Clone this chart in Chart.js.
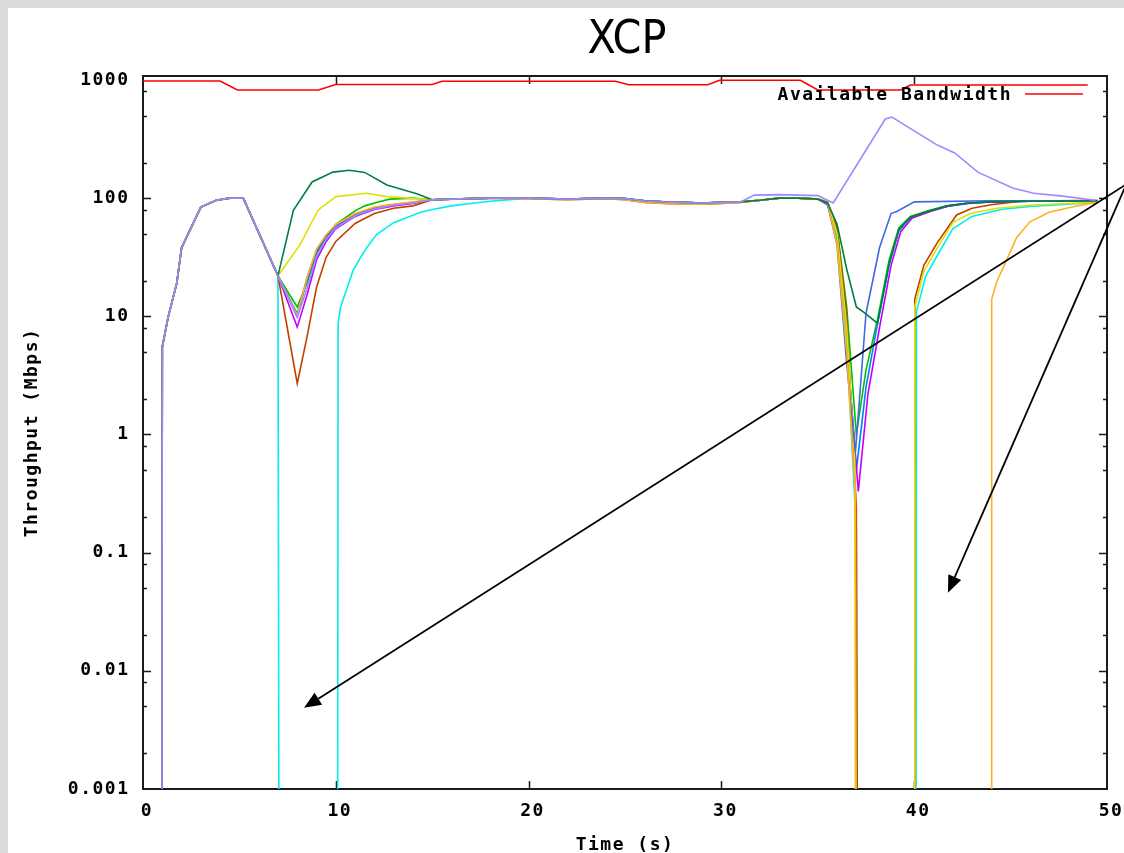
<!DOCTYPE html>
<html>
<head>
<meta charset="utf-8">
<script src="https://cdn.jsdelivr.net/npm/chart.js@4.4.0/dist/chart.umd.min.js"></script>
<style>
  html, body { margin: 0; padding: 0; background: #dcdcdc; overflow: hidden; width: 1124px; height: 853px; }
  #panel { position: absolute; left: 8px; top: 8px; width: 1116px; height: 845px; background: #fff; overflow: hidden; }
  canvas { position: absolute; left: 0; top: 0; }
</style>
</head>
<body>
<div id="panel"><canvas id="chart" width="1116" height="875"></canvas></div>
<script>
// ticks
const xTickValues = [10, 20, 30, 40];
const yTickValues = [0.001, 0.01, 0.1, 1, 10, 100, 1000];
const yTickLabels = ['0.001', '0.01', '0.1', '1', '10', '100', '1000'];
const yMinorSteps = [2, 5, 8];

// available bandwidth (Mbps)
const availT = [0, 4, 4.9, 9.1, 10, 15, 15.5, 24.5, 25.2, 29.3, 29.9, 34.1, 35, 39.3, 39.8, 49];
const availV = [980, 980, 822, 822, 915, 915, 975, 975, 910, 910, 995, 995, 822, 822, 907, 907];

// shared pieces, [time, Mbps]; 0 = no throughput
const ramp = [[0, 0], [0.97, 0], [1, 5.5], [1.3, 9.8], [1.75, 19], [2, 38], [3, 84], [3.8, 96], [4.5, 100], [5.2, 100], [7, 22]];
const plateauA = [[15, 97], [16, 98], [17, 99], [18, 100]];
const plateauB = [[20, 100], [22, 98], [24, 100], [25, 99], [26, 95], [27, 93], [28, 92], [29, 91], [30, 92], [31, 93]];
const plateauBLow = [[20, 99], [22, 97], [24, 99], [25, 97], [26, 92], [27, 90], [28, 89], [29, 89], [30, 90], [31, 92]];
const plateauC = [[32, 96], [33, 100], [34, 100], [35, 98]];

// per flow
const greenEarly = [[8, 12], [8.5, 19], [9, 34], [9.5, 47], [10, 60], [11, 78], [11.5, 86], [12.1, 92], [12.8, 98], [14, 100]];
const greenLate = [[35.5, 92], [36, 55], [36.5, 12], [37, 1.0], [37.5, 3.5], [38.1, 9.5], [38.7, 30], [39.2, 56], [39.8, 70], [40.8, 79], [41.7, 86], [42.8, 91], [44, 93], [46, 94], [49.5, 95]];

const blueEarly = [[8, 10.5], [8.5, 20], [9, 35], [9.5, 47], [10, 57], [11, 72], [12, 82], [13, 88], [14, 92]];
const blueLate = [[35.5, 90], [36, 45], [36.5, 6], [37, 0.5], [37.5, 2.5], [38.1, 8.7], [38.7, 27], [39.2, 53], [39.8, 68], [40.8, 77], [41.7, 85], [42.8, 90], [44, 93], [46, 94], [49.5, 95]];

const magentaEarly = [[8, 8.1], [8.5, 15], [9, 30], [9.5, 43], [10, 55], [11, 70], [12, 80], [13, 86], [14, 90]];
const magentaLate = [[35.5, 88], [36, 48], [36.5, 6], [37.1, 0.33], [37.6, 2.2], [38.2, 8], [38.8, 27], [39.3, 52], [39.9, 68], [40.9, 78], [41.8, 86], [42.9, 91], [44, 93], [46, 94], [49.5, 95]];

const cyanEarly = [[7.08, 0], [10.08, 0], [10.12, 8.7], [10.25, 12], [10.9, 24.5], [11.5, 36], [12.1, 49], [13, 62], [14.4, 76], [15, 80], [16, 86], [17, 90], [18, 94]];
const cyanLate = [[35.5, 90], [36, 45], [36.5, 6], [37, 0.15], [37.06, 0], [40.08, 0], [40.12, 11], [40.6, 22], [41.3, 35], [42, 55], [43, 70], [44.5, 80], [46, 85], [48, 89], [49.5, 92]];

const brownEarly = [[8, 2.7], [8.5, 6.6], [9, 17.6], [9.5, 31.6], [10, 43], [11, 61], [12, 74], [13, 82], [14, 86]];
const brownLate = [[35.5, 92], [36, 55], [36.5, 10], [37, 0.24], [37.1, 0], [40, 0], [40.03, 14], [40.5, 27], [41.2, 42], [42.2, 72], [43, 82], [44, 88], [45.5, 94], [49.5, 96]];

const yellowEarly = [[8.13, 40], [9.08, 79], [10, 103], [11.6, 110], [12.65, 103], [14.2, 99]];
const yellowLate = [[35.5, 95], [36, 50], [36.5, 8], [36.92, 0.6], [36.98, 0], [40, 0], [40.03, 12], [40.5, 24], [41.2, 38], [42, 62], [42.9, 74], [44.3, 82], [46, 87], [48, 90], [49.5, 92]];

const royalEarly = [[8, 10], [8.5, 21], [9, 36], [9.5, 48], [10, 58], [11, 73], [12, 83], [13, 88], [14, 92]];
const royalLate = [[35.5, 90], [36, 40], [36.5, 4], [36.95, 0.7], [37.5, 10.6], [37.75, 16.7], [38.2, 38], [38.8, 74], [39.1, 77], [40, 93], [44, 95], [49.5, 95]];

const orangeEarly = [[8, 10.2], [8.5, 21], [9, 37], [9.5, 49], [10, 60], [11, 74], [12, 84], [13, 89], [14, 93]];
const orangeLate = [[35.5, 93], [36, 40], [36.5, 5], [36.95, 0.3], [37.02, 0], [44, 0], [44.02, 14], [44.3, 20], [44.8, 30], [45.3, 46], [46, 63], [47, 76], [48.2, 84], [49.4, 92]];

const dkgreenEarly = [[7.8, 79], [8.77, 137], [9.85, 166], [10.7, 172], [11.5, 165], [12.65, 129], [14.2, 109]];
const dkgreenLate = [[35.5, 92], [36, 60], [36.5, 25], [37, 12], [37.5, 10.5], [38.1, 8.7], [38.7, 28], [39.2, 54], [39.8, 69], [40.8, 78], [41.7, 86], [42.8, 91], [44, 93], [46, 94], [49.5, 95]];

const lavenderEarly = [[8, 9.8], [8.5, 17], [9, 32], [9.5, 45], [10, 56], [11, 71], [12, 81], [13, 87], [14, 91]];
const lavenderMid = [[31.7, 106], [33, 107], [35, 105], [35.8, 91]];
const lavenderLate = [[38.5, 467], [38.85, 485], [40.1, 362], [41.2, 281], [42.1, 241], [43.3, 166], [45.1, 122], [46.2, 110], [47.7, 104], [49.4, 96]];

// annotation arrows, data coordinates
const arrowStart = [51.0, 131];
const arrowEnds = [[8.35, 0.00486], [41.75, 0.0458]];

const MONO = "'DejaVu Sans Mono', monospace";
const ZERO = 1e-6; // zero throughput sits below the axis floor

function toPoints(...parts) {
  return [].concat(...parts).map(([t, v]) => ({ x: t, y: v > 0 ? v : ZERO }));
}

const flows = [
  { color: '#00c000', data: toPoints(ramp, greenEarly, plateauA, plateauB, plateauC, greenLate) },
  { color: '#0080ff', data: toPoints(ramp, blueEarly, plateauA, plateauB, plateauC, blueLate) },
  { color: '#c000ff', data: toPoints(ramp, magentaEarly, plateauA, plateauB, plateauC, magentaLate) },
  { color: '#00eeee', data: toPoints(ramp, cyanEarly, plateauB, plateauC, cyanLate) },
  { color: '#c04000', data: toPoints(ramp, brownEarly, plateauA, plateauBLow, plateauC, brownLate) },
  { color: '#e0e000', data: toPoints(ramp, yellowEarly, plateauA, plateauB, plateauC, yellowLate) },
  { color: '#4169e1', data: toPoints(ramp, royalEarly, plateauA, plateauB, plateauC, royalLate) },
  { color: '#ffb020', data: toPoints(ramp, orangeEarly, plateauA, plateauBLow, plateauC, orangeLate) },
  { color: '#008040', data: toPoints(ramp, dkgreenEarly, plateauA, plateauB, plateauC, dkgreenLate) },
  { color: '#a088ff', data: toPoints(ramp, lavenderEarly, plateauA, plateauB, lavenderMid, lavenderLate) }
];

const datasets = [{
  label: 'Available Bandwidth',
  data: availT.map((t, i) => ({ x: t, y: availV[i] })),
  borderColor: '#ff0000',
  borderWidth: 1.6,
  order: flows.length + 1
}].concat(flows.map((f, i) => ({
  label: 'flow ' + (i + 1),
  data: f.data,
  borderColor: f.color,
  borderWidth: 1.6,
  order: flows.length - i
})));

// title, frame and inward ticks, gnuplot style
const axisFrame = {
  id: 'axisFrame',
  beforeDraw(chart) {
    const { ctx, chartArea: a } = chart;
    ctx.save();
    ctx.font = "46px 'Liberation Sans Narrow', 'DejaVu Sans Condensed', sans-serif";
    ctx.fillStyle = '#000';
    ctx.textAlign = 'center';
    ctx.textBaseline = 'middle';
    ctx.fillText('XCP', (a.left + a.right) / 2 + 2, 33);
    ctx.restore();
    ctx.letterSpacing = '1.5px';
  },
  beforeDatasetsDraw(chart) {
    const { ctx, chartArea: a, scales: { x, y } } = chart;
    ctx.save();
    ctx.strokeStyle = '#1a1a1a';
    ctx.lineWidth = 2;
    ctx.strokeRect(a.left, a.top, a.right - a.left, a.bottom - a.top);
    ctx.lineWidth = 1.5;
    ctx.beginPath();
    const yTick = (v, len) => {
      const py = Math.round(y.getPixelForValue(v)) + 0.5;
      ctx.moveTo(a.left, py); ctx.lineTo(a.left + len, py);
      ctx.moveTo(a.right, py); ctx.lineTo(a.right - len, py);
    };
    yTickValues.forEach((d, i) => {
      if (i > 0 && i < yTickValues.length - 1) yTick(d, 8);
      if (i < yTickValues.length - 1) yMinorSteps.forEach(m => yTick(d * m, 4));
    });
    yTick(800, 4);
    xTickValues.forEach(v => {
      const px = Math.round(x.getPixelForValue(v)) + 0.5;
      ctx.moveTo(px, a.bottom); ctx.lineTo(px, a.bottom - 8);
      ctx.moveTo(px, a.top); ctx.lineTo(px, a.top + 8);
    });
    ctx.stroke();
    ctx.restore();
  },
  afterDatasetsDraw(chart) {
    const { ctx, chartArea: a, scales: { x, y } } = chart;
    ctx.save();
    // legend
    ctx.font = 'bold 18px ' + MONO;
    ctx.fillStyle = '#000';
    ctx.textAlign = 'right';
    ctx.textBaseline = 'middle';
    ctx.fillText('Available Bandwidth', a.right - 95, a.top + 19);
    ctx.strokeStyle = '#ff0000';
    ctx.lineWidth = 1.6;
    ctx.beginPath();
    ctx.moveTo(a.right - 82, a.top + 18);
    ctx.lineTo(a.right - 24, a.top + 18);
    ctx.stroke();
    // arrows
    const sx = x.getPixelForValue(arrowStart[0]), sy = y.getPixelForValue(arrowStart[1]);
    ctx.strokeStyle = '#000';
    ctx.fillStyle = '#000';
    ctx.lineWidth = 1.8;
    arrowEnds.forEach(([t, v]) => {
      const ex = x.getPixelForValue(t), ey = y.getPixelForValue(v);
      const ang = Math.atan2(ey - sy, ex - sx);
      const hl = 17, hw = 7;
      const bx = ex - hl * Math.cos(ang), by = ey - hl * Math.sin(ang);
      ctx.beginPath();
      ctx.moveTo(sx, sy);
      ctx.lineTo(bx, by);
      ctx.stroke();
      ctx.beginPath();
      ctx.moveTo(ex, ey);
      ctx.lineTo(bx + hw * Math.sin(ang), by - hw * Math.cos(ang));
      ctx.lineTo(bx - hw * Math.sin(ang), by + hw * Math.cos(ang));
      ctx.closePath();
      ctx.fill();
    });
    ctx.restore();
  }
};

const tickFont = { family: MONO, size: 18, weight: 'bold' };

new Chart(document.getElementById('chart'), {
  type: 'line',
  data: { datasets },
  options: {
    responsive: false,
    animation: false,
    layout: { padding: { left: 0, right: 17, top: 68, bottom: 0 }, autoPadding: false },
    elements: { point: { radius: 0 }, line: { tension: 0 } },
    plugins: {
      legend: { display: false },
      tooltip: { enabled: false },
      title: { display: false }
    },
    scales: {
      x: {
        type: 'linear',
        min: 0,
        max: 50,
        grid: { display: false, drawTicks: false },
        border: { display: false },
        ticks: { stepSize: 10, color: '#000', font: tickFont, padding: 12, labelOffset: 4, maxRotation: 0 },
        title: { display: true, text: 'Time (s)', color: '#000', font: tickFont, padding: { top: 0, bottom: 27 } },
        afterFit: s => { s.height = 94; s.paddingLeft = 0; s.paddingRight = 0; }
      },
      y: {
        type: 'logarithmic',
        min: 0.001,
        max: 1080,
        grid: { display: false, drawTicks: false },
        border: { display: false },
        afterBuildTicks: s => { s.ticks = yTickValues.map(v => ({ value: v })); },
        ticks: { color: '#000', font: tickFont, padding: 13.5, callback: (v, i) => yTickLabels[i] },
        title: { display: true, text: 'Throughput (Mbps)', color: '#000', font: tickFont, padding: { top: 14, bottom: 0 } },
        afterFit: s => { s.width = 135; s.paddingTop = 0; s.paddingBottom = 0; }
      }
    }
  },
  plugins: [axisFrame]
});
</script>
</body>
</html>
